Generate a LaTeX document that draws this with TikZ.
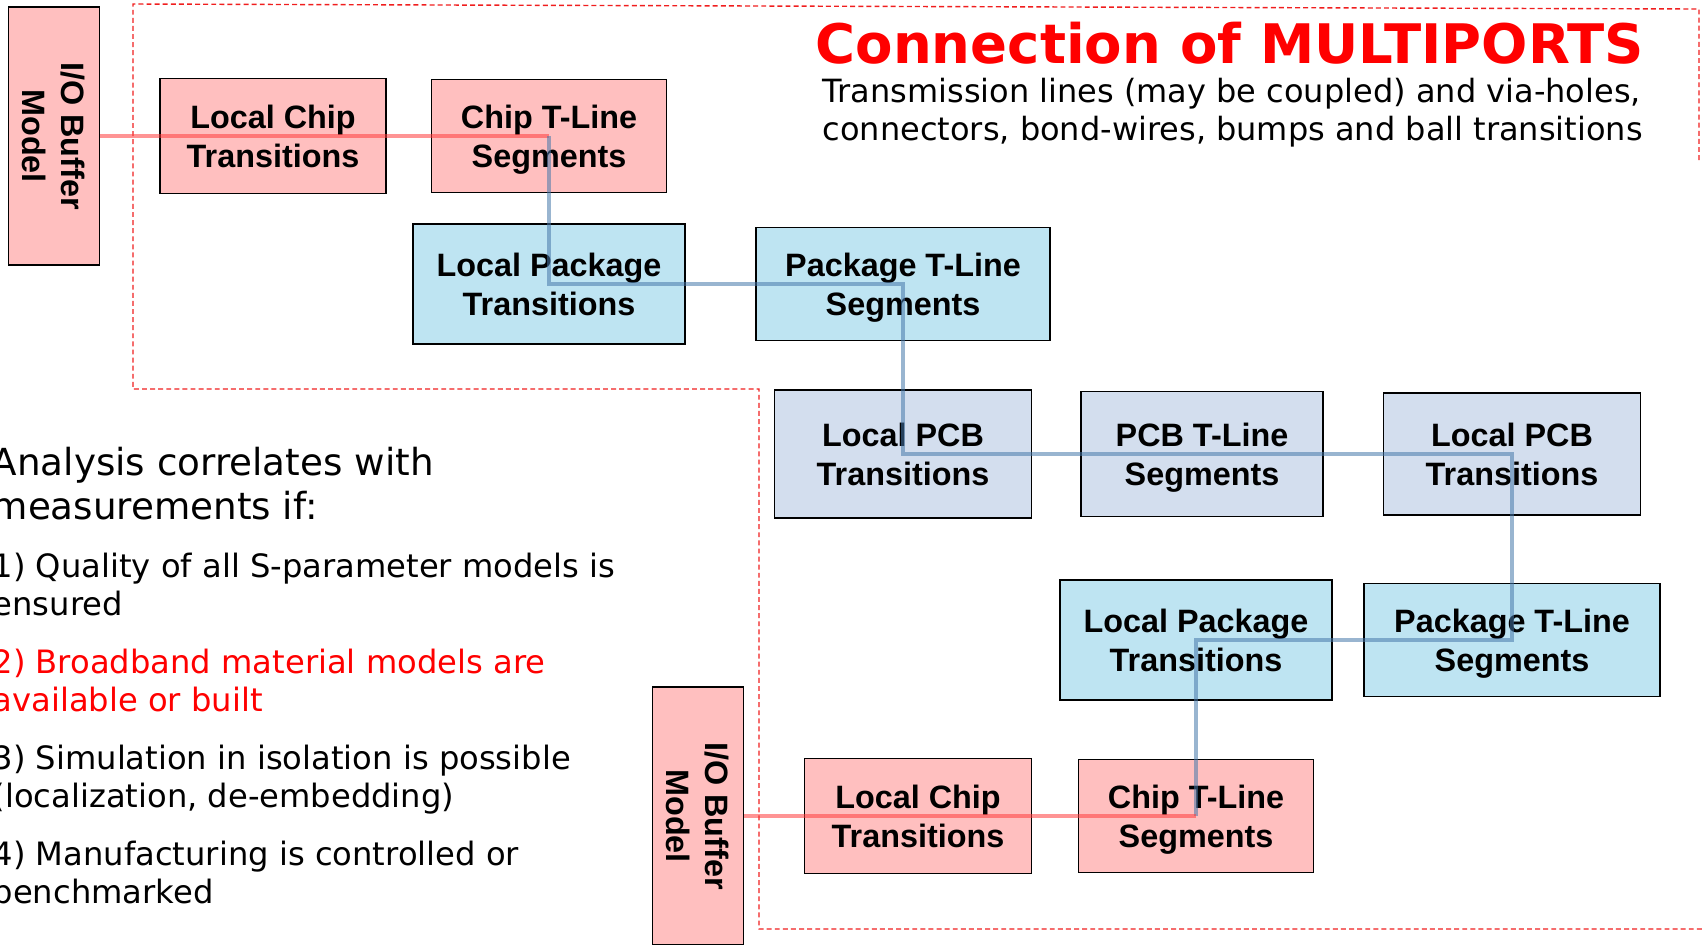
\documentclass[tikz,border=0pt]{standalone}
\usepackage{fontspec}
\setmainfont{DejaVu Sans}
\newfontfamily\boxfont{Liberation Sans}

\definecolor{chipfill}{RGB}{255,191,191}
\definecolor{pkgfill}{RGB}{190,228,242}
\definecolor{pcbfill}{RGB}{211,222,238}
\definecolor{wirered}{RGB}{255,60,60}
\definecolor{wireblue}{RGB}{70,120,170}
\definecolor{titlered}{RGB}{255,0,0}
\definecolor{framered}{RGB}{240,30,30}

\tikzset{
  blk/.style={draw=black, line width=0.5pt, inner sep=0pt, align=center, text depth=0pt,
    font=\boxfont\bfseries\fontsize{9.2}{11.1}\selectfont},
  chipbox/.style={blk, fill=chipfill},
  pkgbox/.style={blk, fill=pkgfill},
  pcbbox/.style={blk, fill=pcbfill},
  iobox/.style={chipbox, rotate=-90, minimum width=2.58cm, minimum height=0.91cm},
  redwire/.style={draw=wirered, line width=1.25pt, draw opacity=0.55},
  bluewire/.style={draw=wireblue, line width=1.25pt, draw opacity=0.55},
  note/.style={anchor=base west, inner sep=0pt, align=left,
    font=\fontsize{9.15}{10.7}\selectfont},
}

\begin{document}
\begin{tikzpicture}[x=0.01cm, y=-0.01cm]
\useasboundingbox (0,0) rectangle (1703,944);

% dashed frame round the package part
\draw[framered, line width=0.4pt, dash pattern=on 1.4pt off 0.9pt]
  (1699,160) -- (1699,9) -- (133,4) -- (133,389) -- (759,389) -- (759,929) -- (1710,929);

% upper chain
\node[iobox] (io1) at (54,136) {I/O Buffer\\Model};
\node[chipbox, minimum width=2.26cm, minimum height=1.15cm] (lct1) at (273,136) {Local Chip\\Transitions};
\node[chipbox, minimum width=2.35cm, minimum height=1.13cm] (ctl1) at (549,136) {Chip T-Line\\Segments};
\node[pkgbox, minimum width=2.72cm, minimum height=1.20cm] (lpt1) at (549,284) {Local Package\\Transitions};
\node[pkgbox, minimum width=2.94cm, minimum height=1.13cm] (ptl1) at (903,284) {Package T-Line\\Segments};

% board
\node[pcbbox, minimum width=2.57cm, minimum height=1.28cm] (lpcb1) at (903,454) {Local PCB\\Transitions};
\node[pcbbox, minimum width=2.42cm, minimum height=1.25cm] (pcbt) at (1202,454) {PCB T-Line\\Segments};
\node[pcbbox, minimum width=2.57cm, minimum height=1.22cm] (lpcb2) at (1512,454) {Local PCB\\Transitions};

% lower chain
\node[pkgbox, minimum width=2.96cm, minimum height=1.13cm] (ptl2) at (1512,640) {Package T-Line\\Segments};
\node[pkgbox, minimum width=2.72cm, minimum height=1.20cm] (lpt2) at (1196,640) {Local Package\\Transitions};
\node[chipbox, minimum width=2.35cm, minimum height=1.13cm] (ctl2) at (1196,816) {Chip T-Line\\Segments};
\node[chipbox, minimum width=2.27cm, minimum height=1.15cm] (lct2) at (918,816) {Local Chip\\Transitions};
\node[iobox] (io2) at (698,816) {I/O Buffer\\Model};

% signal path
\draw[redwire] (io1.north) -- (lct1.center) -- (ctl1.center);
\draw[bluewire] (ctl1.center) -- (lpt1.center) -- (ptl1.center) -- (lpcb1.center) -- (pcbt.center)
  -- (lpcb2.center) -- (ptl2.center) -- (lpt2.center) -- (ctl2.center);
\draw[redwire] (io2.north) -- (lct2.center) -- (ctl2.center);

% texts (base = last line)
\node[anchor=base west, inner sep=0pt, text=titlered, font=\bfseries\fontsize{15.5}{18}\selectfont]
  (title) at (815,63) {Connection of MULTIPORTS};
\node[note, font=\fontsize{9.1}{10.7}\selectfont] (sub) at (822,140) {Transmission lines (may be coupled) and via-holes,\\connectors, bond-wires, bumps and ball transitions};

\node[note, font=\fontsize{10.6}{12.5}\selectfont] (corr) at (-9,519) {Analysis correlates with\\measurements if:};
\node[note] (q1) at (-8,615) {1) Quality of all S-parameter models is\\ensured};
\node[note, text=titlered] (q2) at (-8,711) {2) Broadband material models are\\available or built};
\node[note] (q3) at (-8,807) {3) Simulation in isolation is possible\\(localization, de-embedding)};
\node[note] (q4) at (-8,903) {4) Manufacturing is controlled or\\benchmarked};
\end{tikzpicture}
\end{document}
